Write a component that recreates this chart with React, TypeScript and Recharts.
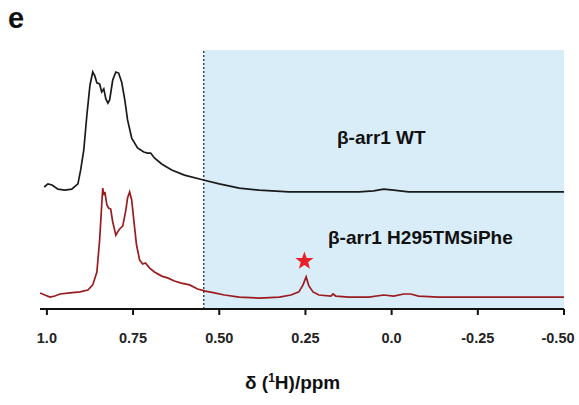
import React from "react";
import {
  ComposedChart,
  Line,
  Scatter,
  XAxis,
  YAxis,
  ReferenceArea,
  ReferenceLine,
} from "recharts";

// chemical shift (ppm) and intensity (arbitrary units, WT trace drawn offset above)
const wtPpm = [
  1.008, 0.997, 0.985, 0.968, 0.948, 0.928, 0.91, 0.902, 0.893, 0.884, 0.875, 0.867, 0.861, 0.855,
  0.847, 0.841, 0.835, 0.829, 0.823, 0.818, 0.809, 0.8, 0.792, 0.783, 0.774, 0.766, 0.754, 0.737,
  0.719, 0.708, 0.699, 0.688, 0.667, 0.638, 0.601, 0.546, 0.5, 0.442, 0.384, 0.298, 0.211, 0.095,
  0.052, 0.023, -0.006, -0.049, -0.165, -0.309, -0.5,
];
const wtVal = [
  47.1, 48.3, 47.9, 46.3, 45.9, 46.3, 48.3, 53.7, 61.4, 74.9, 86.5, 91.5, 90.0, 87.3,
  86.9, 83.8, 85.0, 81.1, 79.5, 80.7, 88.4, 91.5, 91.1, 87.6, 80.7, 73.0, 66.0, 62.2,
  60.6, 60.2, 60.2, 58.3, 56.0, 53.7, 51.7, 49.8, 48.3, 46.7, 45.9, 45.2, 45.2, 45.2,
  45.6, 46.3, 45.9, 45.2, 45.2, 45.2, 45.2,
];

const mutPpm = [
  1.02, 1.006, 0.991, 0.977, 0.962, 0.933, 0.904, 0.881, 0.867, 0.855, 0.847, 0.841, 0.838, 0.835,
  0.832, 0.826, 0.821, 0.815, 0.809, 0.8, 0.795, 0.789, 0.78, 0.771, 0.766, 0.76, 0.754, 0.748,
  0.74, 0.731, 0.722, 0.714, 0.702, 0.688, 0.667, 0.65, 0.63, 0.61, 0.586, 0.563, 0.54, 0.514,
  0.485, 0.442, 0.384, 0.326, 0.292, 0.269, 0.257, 0.248, 0.24, 0.228, 0.211, 0.176, 0.17, 0.162,
  0.124, 0.066, 0.023, -0.006, -0.035, -0.055, -0.078, -0.136, -0.309, -0.5,
];
const mutVal = [
  6.2, 5.4, 4.6, 5.0, 5.8, 6.2, 6.6, 7.3, 9.3, 14.3, 26.6, 40.2, 46.7, 44.0,
  45.2, 40.2, 39.0, 38.6, 33.6, 28.5, 29.7, 30.9, 32.0, 38.2, 42.9, 45.2, 42.1, 34.4,
  24.7, 18.9, 17.4, 17.8, 15.8, 14.3, 12.7, 12.0, 10.8, 10.0, 9.3, 7.7, 6.9, 6.2,
  5.4, 4.6, 4.2, 4.6, 5.4, 6.6, 9.3, 12.4, 8.9, 6.6, 5.4, 5.0, 5.8, 5.0,
  4.6, 4.6, 5.4, 5.0, 5.8, 5.8, 5.0, 4.6, 4.6, 4.6,
];

const starPpm = [0.253];
const starVal = [18.9];

const tickValues = [1, 0.75, 0.5, 0.25, 0, -0.25, -0.5];
const tickLabels = ["1.0", "0.75", "0.50", "0.25", "0.0", "-0.25", "-0.50"];

const shadeFrom = 0.545;
const shadeTo = -0.5;

const wtData = wtPpm.map((p, i) => ({ ppm: p, val: wtVal[i] }));
const mutData = mutPpm.map((p, i) => ({ ppm: p, val: mutVal[i] }));
const starData = starPpm.map((p, i) => ({ ppm: p, val: starVal[i] }));

const FONT = "'Liberation Sans', Arial, sans-serif";

function XTick(props: any) {
  const { x, y, payload } = props;
  const i = tickValues.indexOf(payload.value);
  const shift = payload.value === -0.5 ? -6 : 0;
  return (
    <text
      x={x + shift}
      y={y + 26}
      textAnchor="middle"
      fontFamily={FONT}
      fontWeight="bold"
      fontSize={14.5}
      fill="#222"
    >
      {i >= 0 ? tickLabels[i] : payload.value}
    </text>
  );
}

function Star(props: any) {
  const { cx, cy } = props;
  const outer = 9.5;
  const inner = 3.9;
  const pts: string[] = [];
  for (let k = 0; k < 10; k++) {
    const r = k % 2 === 0 ? outer : inner;
    const a = -Math.PI / 2 + (k * Math.PI) / 5;
    pts.push(`${cx + r * Math.cos(a)},${cy + 1 + r * Math.sin(a)}`);
  }
  return <polygon points={pts.join(" ")} fill="#e8202a" />;
}

export default function App() {
  return (
    <div
      style={{
        position: "absolute",
        left: 0,
        top: 0,
        width: 579,
        height: 405,
        background: "#fff",
        fontFamily: FONT,
      }}
    >
      <ComposedChart width={579} height={405} margin={{ top: 50, right: 15, left: 40, bottom: 56 }}>
        <XAxis
          type="number"
          dataKey="ppm"
          domain={[-0.5, 1.02]}
          reversed
          allowDataOverflow
          ticks={tickValues}
          interval={0}
          height={40}
          axisLine={{ stroke: "#111", strokeWidth: 2 }}
          tickLine={{ stroke: "#111", strokeWidth: 2 }}
          tickSize={6}
          tick={<XTick />}
        />
        <YAxis type="number" dataKey="val" domain={[0, 100]} hide allowDataOverflow />
        <ReferenceArea x1={shadeFrom} x2={shadeTo} fill="#d9edf8" fillOpacity={1} stroke="none" />
        <ReferenceLine x={shadeFrom} stroke="#1f2a36" strokeWidth={1.3} strokeDasharray="2 2" />
        <Line
          data={wtData}
          dataKey="val"
          stroke="#1a1a1a"
          strokeWidth={1.7}
          dot={false}
          type="linear"
          isAnimationActive={false}
        />
        <Line
          data={mutData}
          dataKey="val"
          stroke="#9b1b1f"
          strokeWidth={1.7}
          dot={false}
          type="linear"
          isAnimationActive={false}
        />
        <Scatter data={starData} dataKey="val" shape={<Star />} isAnimationActive={false} />
      </ComposedChart>

      <div style={{ position: "absolute", left: 8, top: 2, fontSize: 29, fontWeight: "bold", color: "#111" }}>
        e
      </div>
      <div style={{ position: "absolute", left: 337, top: 127, fontSize: 19, fontWeight: "bold", color: "#111", whiteSpace: "nowrap" }}>
        β-arr1 WT
      </div>
      <div style={{ position: "absolute", left: 328, top: 227, fontSize: 19, fontWeight: "bold", color: "#111", whiteSpace: "nowrap" }}>
        β-arr1 H295TMSiPhe
      </div>
      <div style={{ position: "absolute", left: 245, top: 371, fontSize: 19, fontWeight: "bold", color: "#111", whiteSpace: "nowrap" }}>
        δ (<sup style={{ fontSize: 12 }}>1</sup>H)/ppm
      </div>
    </div>
  );
}
